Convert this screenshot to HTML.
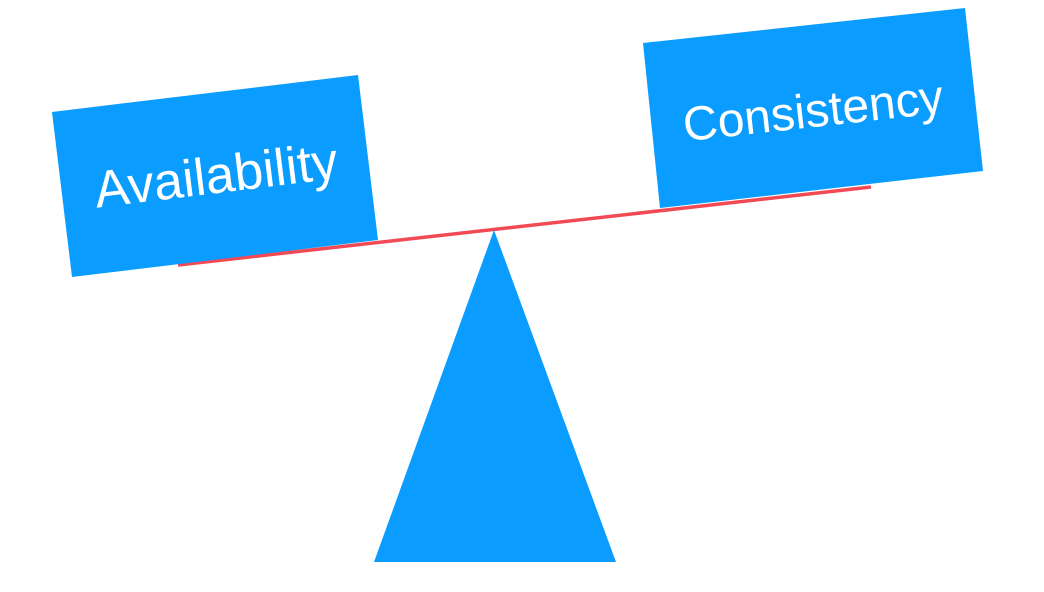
<!DOCTYPE html>
<html><head><meta charset="utf-8"><style>
html,body{margin:0;padding:0;background:#fff;width:1044px;height:592px;overflow:hidden}
</style></head><body>
<svg width="1044" height="592" viewBox="0 0 1044 592" xmlns="http://www.w3.org/2000/svg">
<line x1="178" y1="265" x2="871" y2="187" stroke="#f24a55" stroke-width="3.5"/>
<polygon points="494,230 374,562 616,562" fill="#0a9dff"/>
<polygon points="52,112 358,75 378,240 72,277" fill="#0a9dff"/>
<polygon points="643,43 965,8 983,171 660,208" fill="#0a9dff"/>
<text x="216" y="193" transform="rotate(-7 216 176)" text-anchor="middle" font-family="Liberation Sans, DejaVu Sans, sans-serif" font-size="52" fill="#fff">Availability</text>
<text x="813" y="127" transform="rotate(-6.3 813 110)" text-anchor="middle" font-family="Liberation Sans, DejaVu Sans, sans-serif" font-size="48" fill="#fff">Consistency</text>
</svg>
</body></html>
